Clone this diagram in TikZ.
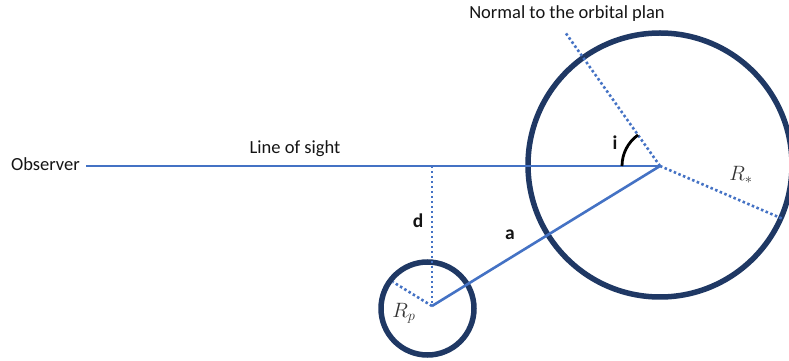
\documentclass[tikz,border=0pt]{standalone}
\usepackage{fontspec}
\setmainfont{Carlito}
\usetikzlibrary{calc}

\definecolor{sightblue}{HTML}{4472C4}
\definecolor{bodynavy}{HTML}{1F3864}

\begin{document}
\begin{tikzpicture}[
  x=1pt,y=1pt,
  sight/.style={draw=sightblue,line width=2.6pt},
  dots/.style={draw=sightblue,line width=2.6pt,dash pattern=on 2.5pt off 2.5pt},
  body/.style={draw=bodynavy,line width=5.5pt},
  angle/.style={draw=black,line width=2.8pt},
  label/.style={font=\fontsize{18.5}{22}\selectfont,text=black!92,inner sep=0pt},
  symb/.style={font=\fontsize{20.5}{24}\selectfont,text=black!80,inner sep=0pt},
]
\useasboundingbox (0,0) rectangle (789,361);
\coordinate (S) at (660,195);
\coordinate (P) at (432,55);
\coordinate (F) at (432,195);
\coordinate (O) at (86,195);
\coordinate (N) at (565,329);
\coordinate (Rs) at (783,142);
\coordinate (Rpe) at (393,79);
% star and planet
\draw[body] (660,196) circle (132);
\draw[body] (427.5,52.5) circle (46.5);
% lines
\draw[sight] (O) -- (S);
\draw[sight] (P) -- (S);
\draw[dots] (F) -- (P);
\draw[dots] (S) -- (N);
\draw[dots] (S) -- (Rs);
\draw[dots] (P) -- (Rpe);
\draw[angle] ($(S)+(-38,0)$) arc (180:125.3:38);
% texts
\node[label,anchor=east] (obs) at (80,197) {Observer};
\node[label] (los) at (295,212) {Line of sight};
\node[label] (norm) at (567,347) {Normal to the orbital plan};
\node[label,font=\fontsize{19.5}{22}\selectfont\bfseries] (dlab) at (418,140) {d};
\node[label,font=\fontsize{19.5}{22}\selectfont\bfseries] (alab) at (510,126) {a};
\node[label,font=\fontsize{19.5}{22}\selectfont\bfseries] (ilab) at (615,218) {i};
\node[symb] (rstar) at (741,186) {$R_*$};
\node[symb] (rpl) at (404,48) {$R_p$};
\end{tikzpicture}
\end{document}
